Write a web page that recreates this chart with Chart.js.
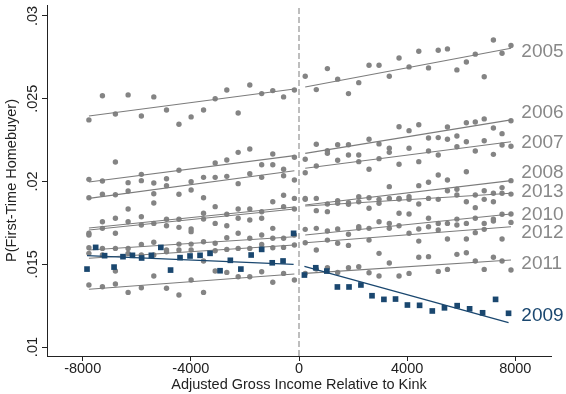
<!DOCTYPE html>
<html>
<head>
<meta charset="utf-8">
<script src="https://cdn.jsdelivr.net/npm/chart.js@4.4.1/dist/chart.umd.min.js"></script>
<style>
  html, body { margin: 0; padding: 0; background: #ffffff; }
  canvas { display: block; }
</style>
</head>
<body>
<canvas id="chart" width="566" height="394" style="width:566px;height:394px"></canvas>
<script>
// Bin centres (income relative to the kink), shared by 2005-2008 and 2010-2013
const xBinsL = [-7770, -7270, -6790, -6320, -5830, -5370, -4900, -4440, -3990, -3530, -3100, -2670, -2250, -1820, -1380, -970, -570, -170];
const xBinsR = [230, 640, 1050, 1430, 1830, 2210, 2590, 2960, 3340, 3700, 4070, 4430, 4790, 5150, 5490, 5840, 6190, 6520, 6850, 7190, 7510, 7840];
// 2009 uses its own bins
const x2009L = [-7840, -7520, -7190, -6840, -6510, -6160, -5820, -5460, -5110, -4750, -4400, -4030, -3660, -3290, -2920, -2540, -2150, -1770, -1380, -990, -590, -200];
const x2009R = [200, 620, 1030, 1420, 1850, 2290, 2700, 3140, 3570, 4010, 4460, 4930, 5380, 5850, 6310, 6790, 7270, 7750];

// Share of first-time homebuyers per bin
const y2005L = [.02372, .02518, .02408, .02523, .02396, .02511, .02432, .02346, .02390, .02432, .02500, .02553, .02414, .02583, .02531, .02549, .02511, .02553];
const y2005R = [.02636, .02555, .02682, .02618, .02531, .02597, .02702, .02702, .02636, .02746, .02692, .02787, .02686, .02793, .02801, .02674, .02722, .02769, .02633, .02855, .02775, .02821];
const y2006L = [.02013, .02003, .02118, .01993, .02043, .01991, .02017, .02068, .01999, .02025, .02112, .02130, .02176, .02196, .02101, .02166, .02074, .02146];
const y2006R = [.02134, .02225, .02186, .02222, .02222, .02160, .02255, .02227, .02201, .02331, .02307, .02343, .02263, .02265, .02329, .02275, .02355, .02359, .02378, .02323, .02289, .02367];
const y2007L = [.01902, .01923, .01920, .01943, .02005, .01926, .01975, .01923, .01949, .01902, .02025, .02031, .01987, .02047, .02025, .02101, .02035, .02009];
const y2007R = [.02053, .02094, .02170, .02128, .02160, .02120, .02074, .02138, .02176, .02104, .02201, .02120, .02184, .02160, .02255, .02210, .02240, .02184, .02246, .02164, .02220, .02213];
const y2008L = [.01687, .01757, .01778, .01834, .01787, .01870, .01772, .01772, .01713, .01808, .01848, .01802, .01834, .01834, .01817, .01878, .01917, .01898];
const y2008R = [.01898, .01898, .01864, .01884, .01872, .01908, .01902, .01892, .01969, .01898, .01908, .01975, .01995, .02039, .02009, .01953, .02059, .01918, .01944, .01929, .01963, .02005];
const y2013L = [.01677, .01717, .01687, .01757, .01737, .01747, .01733, .01723, .01697, .01773, .01747, .01733, .01778, .01767, .01778, .01717, .01848, .01834];
const y2013R = [.01892, .01824, .01818, .01868, .01862, .01878, .01838, .01868, .01898, .01894, .01892, .01864, .01898, .01892, .01944, .01918, .01878, .01842, .01892, .01878, .01929, .01924];
const y2010L = [.01600, .01596, .01596, .01596, .01620, .01633, .01586, .01622, .01622, .01636, .01627, .01660, .01687, .01657, .01677, .01657, .01657, .01677];
const y2010R = [.01711, .01717, .01701, .01713, .01681, .01727, .01717, .01757, .01747, .01808, .01804, .01713, .01778, .01747, .01747, .01773, .01747, .01778, .01747, .01773, .01802, .01804];
const y2012L = [.01566, .01556, .01459, .01566, .01556, .01556, .01576, .01586, .01586, .01520, .01582, .01590, .01596, .01596, .01620, .01600, .01602, .01616];
const y2012R = [.01630, .01586, .01646, .01627, .01614, .01717, .01646, .01566, .01717, .01733, .01687, .01640, .01727, .01707, .01653, .01737, .01653, .01691, .01711, .01761, .01653, .01753];
const y2011L = [.01375, .01364, .01381, .01330, .01358, .01429, .01355, .01314, .01405, .01330, .01459, .01451, .01425, .01425, .01455, .01391, .01445, .01405];
const y2011R = [.01445, .01471, .01479, .01451, .01479, .01485, .01449, .01429, .01508, .01429, .01445, .01542, .01546, .01457, .01469, .01560, .01570, .01520, .01469, .01542, .01520, .01465];
const y2009L = [.01471, .01602, .01552, .01483, .01546, .01554, .01538, .01554, .01602, .01465, .01540, .01550, .01554, .01566, .01461, .01524, .01471, .01556, .01590, .01509, .01520, .01687];
const y2009R = [.01435, .01479, .01459, .01363, .01363, .01375, .01310, .01288, .01290, .01254, .01252, .01218, .01237, .01250, .01231, .01207, .01288, .01204];

// Linear fits on each side of the kink: [left start, left end, right start, right end]
const fit2005 = [.02396, .02559, .02571, .02805];
const fit2006 = [.01997, .02156, .02170, .02372];
const fit2007 = [.01898, .02065, .02080, .02240];
const fit2008 = [.01719, .01846, .01858, .02005];
const fit2013 = [.01707, .01834, .01852, .01929];
const fit2010 = [.01586, .01666, .01677, .01804];
const fit2012 = [.01536, .01616, .01630, .01727];
const fit2011 = [.01349, .01441, .01445, .01526];
const fit2009 = [.01552, .01500, .01488, .01147];

// Year tags at the right end, and the y value each one sits at
const years   = ['2005', '2006', '2007', '2008', '2013', '2010', '2012', '2011', '2009'];
const labelAt = [.02784, .02414, .02231, .02053, .01938, .01802, .01691, .01506, .01189];

// Axis ticks
const xTickVals = [-8000, -4000, 0, 4000, 8000];
const yTickVals = [0.01, 0.015, 0.02, 0.025, 0.03];
const yTickText = ['.01', '.015', '.02', '.025', '.03'];

const X_MIN = -9320, X_MAX = 9320, Y_MIN = 0.00946, Y_MAX = 0.03066;

const GRAY = '#848484';
const GRAY_LINE = '#7c7c7c';
const LABEL_GRAY = '#888888';
const NAVY = '#1a476f';
const AXIS = '#222222';
const FONT = "'Liberation Sans', Arial, Helvetica, sans-serif";

const groups = [
  { year: '2005', xl: xBinsL, yl: y2005L, xr: xBinsR, yr: y2005R, fit: fit2005 },
  { year: '2006', xl: xBinsL, yl: y2006L, xr: xBinsR, yr: y2006R, fit: fit2006 },
  { year: '2007', xl: xBinsL, yl: y2007L, xr: xBinsR, yr: y2007R, fit: fit2007 },
  { year: '2008', xl: xBinsL, yl: y2008L, xr: xBinsR, yr: y2008R, fit: fit2008 },
  { year: '2013', xl: xBinsL, yl: y2013L, xr: xBinsR, yr: y2013R, fit: fit2013 },
  { year: '2010', xl: xBinsL, yl: y2010L, xr: xBinsR, yr: y2010R, fit: fit2010 },
  { year: '2012', xl: xBinsL, yl: y2012L, xr: xBinsR, yr: y2012R, fit: fit2012 },
  { year: '2011', xl: xBinsL, yl: y2011L, xr: xBinsR, yr: y2011R, fit: fit2011 },
  { year: '2009', xl: x2009L, yl: y2009L, xr: x2009R, yr: y2009R, fit: fit2009 }
];

const toPoints = (xs, ys) => xs.map((x, i) => ({ x: x, y: ys[i] }));

const datasets = [];
groups.forEach(g => {
  const navy = g.year === '2009';
  const dotColor = navy ? NAVY : GRAY;
  const lineColor = navy ? NAVY : GRAY_LINE;
  datasets.push({
    label: g.year,
    data: toPoints(g.xl, g.yl).concat(toPoints(g.xr, g.yr)),
    pointStyle: navy ? 'rect' : 'circle',
    pointRadius: navy ? 4 : 2.7,
    backgroundColor: dotColor,
    borderWidth: 0,
    order: navy ? 1 : 3
  });
  const lastL = g.xl.length - 1, lastR = g.xr.length - 1;
  [[g.xl[0], g.fit[0], g.xl[lastL], g.fit[1]], [g.xr[0], g.fit[2], g.xr[lastR], g.fit[3]]].forEach(seg => {
    datasets.push({
      label: g.year + ' fit',
      data: [{ x: seg[0], y: seg[1] }, { x: seg[2], y: seg[3] }],
      showLine: true,
      borderColor: lineColor,
      borderWidth: navy ? 1.3 : 1.1,
      pointRadius: 0,
      order: navy ? 0 : 2
    });
  });
});

// Dashed marker at the kink
datasets.push({
  label: 'kink',
  data: [{ x: 0, y: Y_MIN }, { x: 0, y: Y_MAX }],
  showLine: true,
  borderColor: '#9c9c9c',
  borderWidth: 1.3,
  borderDash: [6, 3],
  pointRadius: 0,
  order: 5
});

const yearLabels = {
  id: 'yearLabels',
  afterDatasetsDraw(chart) {
    const { ctx, scales } = chart;
    const x0 = scales.x.getPixelForValue(8000) + 6;
    ctx.save();
    ctx.font = '19px ' + FONT;
    ctx.textAlign = 'left';
    ctx.textBaseline = 'middle';
    years.forEach((yr, i) => {
      ctx.fillStyle = yr === '2009' ? NAVY : LABEL_GRAY;
      ctx.fillText(yr, x0, scales.y.getPixelForValue(labelAt[i]));
    });
    ctx.restore();
  }
};

new Chart(document.getElementById('chart'), {
  type: 'scatter',
  data: { datasets: datasets },
  plugins: [yearLabels],
  options: {
    responsive: false,
    devicePixelRatio: 1,
    animation: false,
    layout: { padding: { top: 5, right: 15, bottom: 0, left: 0 } },
    plugins: { legend: { display: false }, tooltip: { enabled: false } },
    scales: {
      x: {
        type: 'linear',
        min: X_MIN,
        max: X_MAX,
        afterBuildTicks: s => { s.ticks = xTickVals.map(v => ({ value: v })); },
        afterFit: s => { s.height = 38; },
        ticks: {
          callback: v => String(v),
          autoSkip: false, maxRotation: 0, minRotation: 0,
          padding: -1,
          color: AXIS,
          font: { family: FONT, size: 14.5 }
        },
        grid: { drawOnChartArea: false, drawTicks: true, tickLength: 5, color: AXIS },
        border: { display: true, color: AXIS, width: 1 },
        title: {
          display: true,
          text: 'Adjusted Gross Income Relative to Kink',
          color: AXIS,
          font: { family: FONT, size: 14.5 },
          padding: { top: 0, bottom: 0 }
        }
      },
      y: {
        type: 'linear',
        min: Y_MIN,
        max: Y_MAX,
        afterBuildTicks: s => { s.ticks = yTickVals.map(v => ({ value: v })); },
        afterFit: s => { s.width = 47; },
        ticks: {
          callback: (v, i) => yTickText[i],
          minRotation: 90, maxRotation: 90,
          crossAlign: 'center',
          padding: -5,
          color: AXIS,
          font: { family: FONT, size: 14.5 }
        },
        grid: { drawOnChartArea: false, drawTicks: true, tickLength: 5, color: AXIS },
        border: { display: true, color: AXIS, width: 1 },
        title: {
          display: true,
          text: 'P(First-Time Homebuyer)',
          color: AXIS,
          font: { family: FONT, size: 14.5 },
          padding: { top: 3, bottom: 0 }
        }
      }
    }
  }
});
</script>
</body>
</html>
